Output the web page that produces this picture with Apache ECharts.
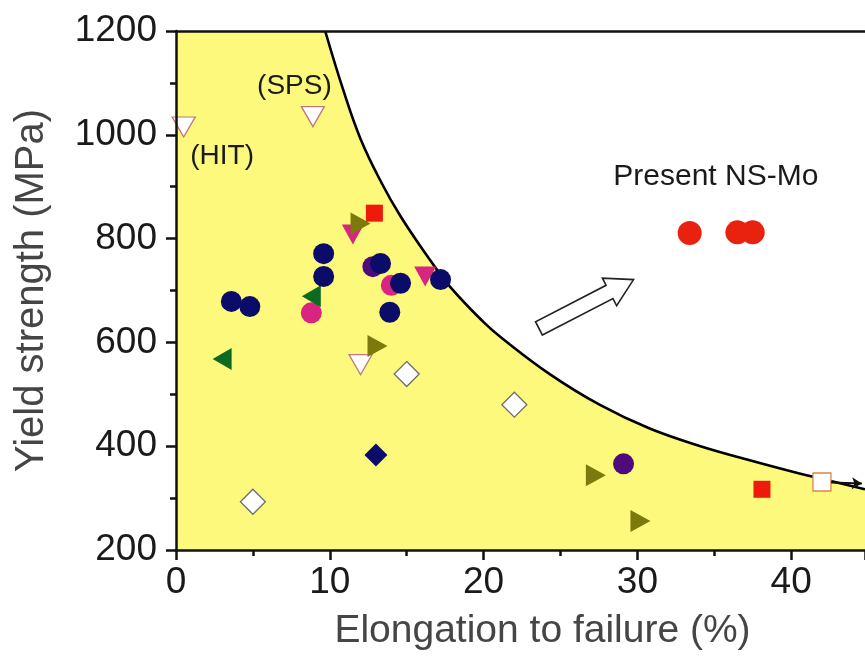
<!DOCTYPE html>
<html>
<head>
<meta charset="utf-8">
<script src="https://cdn.jsdelivr.net/npm/echarts@6/dist/echarts.min.js"></script>
<style>
  html, body { margin: 0; padding: 0; background: #fff; }
  #chart { width: 865px; height: 656px; }
</style>
</head>
<body>
<div id="chart"></div>
<script>
// axis ticks
var xLabels = [0, 10, 20, 30, 40];
var yLabels = [200, 400, 600, 800, 1000, 1200];

// boundary curve (elongation %, MPa)
var boundary = [[9.7, 1200], [10.9, 1084], [12.0, 992], [13.3, 911], [14.6, 843], [16.3, 768],
  [17.8, 708], [20.0, 639], [21.2, 608], [24.3, 539], [27.6, 479], [30.8, 434], [34.1, 400],
  [37.3, 373], [40.6, 347], [42.0, 337], [44.8, 317]];

// literature data, grouped by marker
var whiteDownTri = [[0.5, 1015], [8.9, 1035], [12.0, 557]];
var whiteDiamond = [[5.0, 293], [15.0, 539], [22.0, 480]];
var magentaCircle = [[8.8, 657], [14.0, 710]];
var purpleCircle = [[12.8, 746], [29.1, 366]];
var magentaDownTri = [[11.5, 808], [16.2, 727]];
var greenLeftTri = [[3.0, 568], [8.8, 689]];
var oliveRightTri = [[12.0, 829], [13.1, 593], [27.3, 344], [30.2, 256]];
var navyCircle = [[3.6, 679], [4.8, 669], [9.6, 771], [9.6, 727], [13.3, 752], [14.6, 714], [13.9, 658], [17.2, 721]];
var navyDiamond = [[13.0, 383]];
var redSquare = [[12.9, 849], [38.1, 317]];
var whiteSquare = [[42.0, 331]];
var presentNSMo = [[33.4, 811], [36.5, 812], [37.5, 812]];

// annotations (data coords)
var notes = [
  { text: '(SPS)', at: [7.7, 1093], size: 28 },
  { text: '(HIT)', at: [3.0, 958], size: 28 },
  { text: 'Present NS-Mo', at: [35.1, 919], size: 30 }
];
var bigArrow = { tail: [23.6, 627], tip: [29.75, 721] };

var FONT = 'Liberation Sans, Arial, sans-serif';
var TRI_R = 'path://M0,0L10,5L0,10Z';
var TRI_L = 'path://M10,0L0,5L10,10Z';
var TRI_D = 'path://M0,0L10,0L5,10Z';

function pts(name, data, symbol, size, fill, stroke) {
  return {
    name: name,
    type: 'scatter',
    data: data,
    symbol: symbol,
    symbolSize: size,
    itemStyle: { color: fill, borderColor: stroke || fill, borderWidth: stroke ? 1.3 : 0, opacity: 1 },
    z: 3
  };
}

var myChart = echarts.init(document.getElementById('chart'));
var option = {
  backgroundColor: '#fff',
  animation: false,
  grid: { left: 176, top: 31, bottom: 106, right: 0 },
  xAxis: [{
    type: 'value', min: 0, max: 44.8, interval: 5, z: 10,
    name: 'Elongation to failure (%)', nameLocation: 'middle', nameGap: 62,
    nameTextStyle: { fontFamily: FONT, fontSize: 39, color: '#454545', padding: [0, 0, 0, 44] },
    axisLine: { lineStyle: { color: '#111', width: 2.5 } },
    axisTick: { length: 6, lineStyle: { color: '#111', width: 2.5 } },
    axisLabel: {
      margin: 14, fontFamily: FONT, fontSize: 37, color: '#1a1a1a', showMaxLabel: false,
      formatter: function (v) { return xLabels.indexOf(v) >= 0 ? String(v) : ''; }
    },
    splitLine: { show: false }
  }, {
    // top frame line
    type: 'value', min: 0, max: 44.8, position: 'top', z: 10,
    axisLine: { onZero: false, lineStyle: { color: '#111', width: 2.5 } },
    axisTick: { show: false }, axisLabel: { show: false }, splitLine: { show: false }
  }, {
    // longer major ticks every 10
    type: 'value', min: 0, max: 44.8, interval: 10, position: 'bottom', z: 10,
    axisLine: { show: false },
    axisTick: { length: 10, lineStyle: { color: '#111', width: 2.5 } },
    axisLabel: { show: false }, splitLine: { show: false }
  }],
  yAxis: {
    type: 'value', min: 200, max: 1200, interval: 200, z: 10,
    name: 'Yield strength (MPa)', nameLocation: 'middle', nameGap: 124,
    nameTextStyle: { fontFamily: FONT, fontSize: 40, color: '#454545' },
    axisLine: { lineStyle: { color: '#111', width: 2.5 } },
    axisTick: { length: 10, lineStyle: { color: '#111', width: 2.5 } },
    minorTick: { show: true, splitNumber: 2, length: 6, lineStyle: { color: '#111', width: 2.5 } },
    axisLabel: {
      margin: 19, fontFamily: FONT, fontSize: 37, color: '#1a1a1a',
      formatter: function (v) { return yLabels.indexOf(v) >= 0 ? String(v) : ''; }
    },
    splitLine: { show: false }
  },
  series: [
    {
      name: 'boundary',
      type: 'line',
      data: boundary,
      smooth: 0.4,
      symbol: 'none',
      lineStyle: { color: '#000', width: 2.6 },
      areaStyle: { color: '#fcf97c', opacity: 1 },
      markArea: {
        silent: true,
        itemStyle: { color: '#fcf97c', borderWidth: 0 },
        data: [[{ coord: [0, 200] }, { coord: [9.75, 1200] }]]
      },
      z: 1
    },
    pts('whiteDownTri', whiteDownTri, TRI_D, [23, 20], '#ffffff', '#c07878'),
    pts('whiteDiamond', whiteDiamond, 'diamond', [25, 25], '#ffffff', '#6e6e6e'),
    pts('magentaCircle', magentaCircle, 'circle', 21, '#d8257f'),
    pts('purpleCircle', purpleCircle, 'circle', 21, '#4e0b7c'),
    pts('magentaDownTri', magentaDownTri, TRI_D, [22, 20], '#d8257f'),
    pts('greenLeftTri', greenLeftTri, TRI_L, [19, 22], '#0d6b21'),
    pts('oliveRightTri', oliveRightTri, TRI_R, [20, 22], '#7c7a0c'),
    pts('navyCircle', navyCircle, 'circle', 21, '#0b0b6a'),
    pts('navyDiamond', navyDiamond, 'diamond', [23, 23], '#0b0b6a'),
    pts('redSquare', redSquare, 'rect', 17, '#ee1a0c'),
    (function () {
      var s = pts('whiteSquare', whiteSquare, 'rect', 18, '#ffffff', '#e0844c');
      s.markLine = {
        silent: true, symbol: ['none', 'arrow'], symbolSize: [9, 10],
        label: { show: false },
        lineStyle: { color: '#111', width: 2, type: 'solid' },
        data: [[{ coord: [42.6, 330] }, { coord: [44.6, 328] }]]
      };
      return s;
    })(),
    pts('presentNSMo', presentNSMo, 'circle', 24, '#e8220f')
  ]
};
myChart.setOption(option);

// annotation texts and the hollow arrow, placed through the axes
function px(p) { return myChart.convertToPixel({ gridIndex: 0 }, p); }
var g = notes.map(function (n) {
  var p = px(n.at);
  return {
    type: 'text', x: p[0], y: p[1], z: 20,
    style: { text: n.text, fontFamily: FONT, fontSize: n.size, fill: '#1a1a1a', align: 'center', verticalAlign: 'middle' }
  };
});
var t = px(bigArrow.tail), h = px(bigArrow.tip);
var dx = h[0] - t[0], dy = h[1] - t[1], len = Math.sqrt(dx * dx + dy * dy);
var ux = dx / len, uy = dy / len, nx = -uy, ny = ux;
var sw = 7.5, hw = 15.5, hl = 27;
var bx = h[0] - ux * hl, by = h[1] - uy * hl;
g.push({
  type: 'polygon', z: 20,
  shape: { points: [
    [t[0] + nx * sw, t[1] + ny * sw], [bx + nx * sw, by + ny * sw], [bx + nx * hw, by + ny * hw],
    [h[0], h[1]], [bx - nx * hw, by - ny * hw], [bx - nx * sw, by - ny * sw], [t[0] - nx * sw, t[1] - ny * sw]
  ] },
  style: { fill: '#fff', stroke: '#222', lineWidth: 1.6 }
});
myChart.setOption({ graphic: g });
</script>
</body>
</html>
